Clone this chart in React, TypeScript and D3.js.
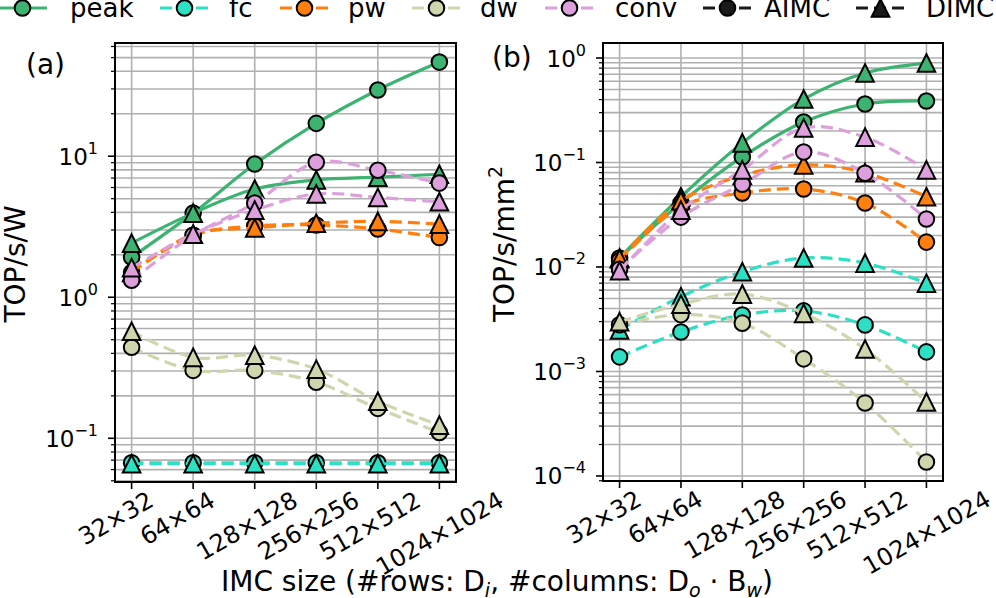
import React from 'react';
import * as d3 from 'd3';

// IMC array sizes (x categories)
const sizes = ['32×32', '64×64', '128×128', '256×256', '512×512', '1024×1024'];
const categories = ['peak', 'fc', 'pw', 'dw', 'conv'];
const archs = ['AIMC', 'DIMC'];

// (a) energy efficiency, TOP/s/W
const effPeakAimc = [1.92, 3.95, 8.8, 17.1, 29.5, 46.5];
const effPeakDimc = [2.42, 3.95, 5.85, 6.8, 7.1, 7.45];
const effFcAimc = [0.067, 0.067, 0.067, 0.067, 0.067, 0.067];
const effFcDimc = [0.066, 0.066, 0.066, 0.066, 0.066, 0.066];
const effPwAimc = [1.5, 2.75, 3.2, 3.25, 3.05, 2.65];
const effPwDimc = [1.5, 2.8, 3.1, 3.35, 3.45, 3.3];
const effDwAimc = [0.442, 0.303, 0.303, 0.25, 0.163, 0.11];
const effDwDimc = [0.574, 0.375, 0.388, 0.309, 0.183, 0.124];
const effConvAimc = [1.32, 2.75, 4.65, 9.05, 7.95, 6.45];
const effConvDimc = [1.62, 2.8, 4.15, 5.4, 5.1, 4.75];

// (b) area efficiency, TOP/s/mm2
const denPeakAimc = [0.0122, 0.041, 0.113, 0.244, 0.363, 0.388];
const denPeakDimc = [0.0122, 0.047, 0.154, 0.405, 0.72, 0.895];
const denFcAimc = [0.00138, 0.00239, 0.00347, 0.0038, 0.00279, 0.00154];
const denFcDimc = [0.0025, 0.0052, 0.009, 0.0122, 0.0109, 0.007];
const denPwAimc = [0.0115, 0.038, 0.051, 0.0557, 0.041, 0.0173];
const denPwDimc = [0.012, 0.043, 0.075, 0.095, 0.08, 0.047];
const denDwAimc = [0.0028, 0.0035, 0.0029, 0.00132, 0.0005, 0.000136];
const denDwDimc = [0.003, 0.0044, 0.0055, 0.0036, 0.00164, 0.00051];
const denConvAimc = [0.0095, 0.03, 0.062, 0.126, 0.079, 0.0288];
const denConvDimc = [0.0092, 0.035, 0.085, 0.214, 0.175, 0.085];

const effSeries = {
  peak: [effPeakAimc, effPeakDimc],
  fc: [effFcAimc, effFcDimc],
  pw: [effPwAimc, effPwDimc],
  dw: [effDwAimc, effDwDimc],
  conv: [effConvAimc, effConvDimc],
};
const denSeries = {
  peak: [denPeakAimc, denPeakDimc],
  fc: [denFcAimc, denFcDimc],
  pw: [denPwAimc, denPwDimc],
  dw: [denDwAimc, denDwDimc],
  conv: [denConvAimc, denConvDimc],
};

const effExps = [-1, 0, 1];
const denExps = [-4, -3, -2, -1, 0];

const colors = {
  peak: '#3cb371',
  fc: '#2ee0c3',
  pw: '#ff7f0e',
  dw: '#cfd6ae',
  conv: '#dda0dd',
};
const FONT = 'DejaVu Sans, Verdana, sans-serif';
const DASH = '12,6';
const GRID = '#b0b0b0';
const TICK_FS = 23;
const XTICK_FS = 24;
const ROT = 30;

const Marker = ({ shape, x, y, fill }) => {
  if (shape === 'AIMC')
    return <circle cx={x} cy={y} r={7.8} fill={fill} stroke="#000" strokeWidth={2} />;
  const s = 8.8;
  return (
    <path
      d={`M${x},${y - s}L${x + s},${y + s}L${x - s},${y + s}Z`}
      fill={fill}
      stroke="#000"
      strokeWidth={2}
    />
  );
};

const sup = n => (n < 0 ? '−' + Math.abs(n) : String(n));

// rough text width for the size labels (digits + ×) so rotated boxes can be placed
const labelWidth = s => XTICK_FS * (0.636 * (s.length - 1) + 0.838);

const XLabel = ({ s, tx, y0 }) => {
  const w = labelWidth(s);
  const h = XTICK_FS * 0.73;
  const r = (ROT * Math.PI) / 180;
  const bh = w * Math.sin(r) + h * Math.cos(r);
  const cx = tx - 16 + 4 * (s.length - 5);
  const cy = y0 + bh / 2;
  return (
    <text
      transform={`translate(${cx},${cy}) rotate(${-ROT})`}
      textAnchor="middle"
      dy="0.365em"
      fontSize={XTICK_FS}
    >
      {s}
    </text>
  );
};

const Panel = ({ left, right, top, bottom, domain, exps, series, label, labelX, labelY }) => {
  const x = d3.scalePoint().domain(sizes).range([left, right]).padding(0.27);
  const y = d3.scaleLog().domain(domain).range([bottom, top]);
  const ticks = y.ticks().filter(t => y(t) >= top - 0.5 && y(t) <= bottom + 0.5);
  const isMajor = t => Math.abs(Math.log10(t) - Math.round(Math.log10(t))) < 1e-6;

  const line = d3
    .line()
    .x((d, i) => x(sizes[i]))
    .y(d => y(d))
    .curve(d3.curveCatmullRom.alpha(0.5));

  return (
    <g>
      {/* grid */}
      {ticks.map((t, i) => (
        <line key={'gy' + i} x1={left} x2={right} y1={y(t)} y2={y(t)} stroke={GRID} strokeWidth={1.6} />
      ))}
      {sizes.map(s => (
        <line key={'gx' + s} x1={x(s)} x2={x(s)} y1={top} y2={bottom} stroke={GRID} strokeWidth={1.6} />
      ))}

      {/* series */}
      {categories.map(c =>
        series[c].map((vals, k) => (
          <g key={c + k}>
            <path
              d={line(vals)}
              fill="none"
              stroke={colors[c]}
              strokeWidth={3.2}
              strokeDasharray={c === 'peak' ? null : DASH}
            />
            {vals.map((v, i) => (
              <Marker key={i} shape={archs[k]} x={x(sizes[i])} y={y(v)} fill={colors[c]} />
            ))}
          </g>
        ))
      )}

      {/* frame */}
      <rect x={left} y={top} width={right - left} height={bottom - top} fill="none" stroke="#000" strokeWidth={2} />

      {/* y ticks */}
      {ticks.map((t, i) => (
        <line
          key={'ty' + i}
          x1={left}
          x2={left - (isMajor(t) ? 7 : 4)}
          y1={y(t)}
          y2={y(t)}
          stroke="#000"
          strokeWidth={isMajor(t) ? 1.6 : 1.2}
        />
      ))}
      {exps.map(e => (
        <text key={'ly' + e} x={left - 17} y={y(Math.pow(10, e)) + 8.5} textAnchor="end" fontSize={TICK_FS}>
          10
          <tspan dy={-11} fontSize={16}>
            {sup(e)}
          </tspan>
        </text>
      ))}

      {/* x ticks */}
      {sizes.map(s => (
        <g key={'tx' + s}>
          <line x1={x(s)} x2={x(s)} y1={bottom} y2={bottom + 7} stroke="#000" strokeWidth={1.6} />
          <XLabel s={s} tx={x(s)} y0={bottom + 8} />
        </g>
      ))}

      <text x={labelX} y={labelY} fontSize={28}>
        {label}
      </text>
    </g>
  );
};

const legendItems = ['peak', 'fc', 'pw', 'dw', 'conv', 'AIMC', 'DIMC'];
const legendStart = [-2, 160, 280, 412, 545, 703, 856];
const legendText = [70, 229, 348, 480, 615, 764, 926];

const Legend = () => (
  <g>
    {legendItems.map((name, i) => {
      const isArch = name === 'AIMC' || name === 'DIMC';
      const col = isArch ? '#1a1a1a' : colors[name];
      const x0 = legendStart[i];
      return (
        <g key={name}>
          <line
            x1={x0}
            x2={x0 + 49}
            y1={8}
            y2={8}
            stroke={col}
            strokeWidth={3.2}
            strokeDasharray={name === 'peak' ? null : DASH}
          />
          <Marker shape={name === 'DIMC' ? 'DIMC' : 'AIMC'} x={x0 + 24.5} y={8} fill={col} />
          <text x={legendText[i]} y={17} fontSize={26}>
            {name}
          </text>
        </g>
      );
    })}
  </g>
);

export default function App() {
  return (
    <svg
      width={996}
      height={598}
      style={{ position: 'absolute', left: 0, top: 0, background: '#fff' }}
      fontFamily={FONT}
      fill="#000"
    >
      <rect width={996} height={598} fill="#fff" />
      <Panel
        left={115}
        right={456}
        top={43}
        bottom={482}
        domain={[0.049, 63.5]}
        exps={effExps}
        series={effSeries}
        label="(a)"
        labelX={26}
        labelY={74}
      />
      <Panel
        left={603}
        right={943}
        top={43}
        bottom={481}
        domain={[8.95e-5, 1.392]}
        exps={denExps}
        series={denSeries}
        label="(b)"
        labelX={492}
        labelY={67}
      />
      <Legend />

      <text transform="translate(25,264) rotate(-90)" textAnchor="middle" fontSize={28}>
        TOP/s/W
      </text>
      <text transform="translate(514,244) rotate(-90)" textAnchor="middle" fontSize={28}>
        TOP/s/mm
        <tspan dy={-12} fontSize={19}>
          2
        </tspan>
      </text>

      <text x={497} y={591} textAnchor="middle" fontSize={28}>
        IMC size (#rows: D
        <tspan dy={6} fontSize={19} fontStyle="italic">
          i
        </tspan>
        <tspan dy={-6}>, #columns: D</tspan>
        <tspan dy={6} fontSize={19} fontStyle="italic">
          o
        </tspan>
        <tspan dy={-6}> · B</tspan>
        <tspan dy={6} fontSize={19} fontStyle="italic">
          w
        </tspan>
        <tspan dy={-6}>)</tspan>
      </text>
    </svg>
  );
}
